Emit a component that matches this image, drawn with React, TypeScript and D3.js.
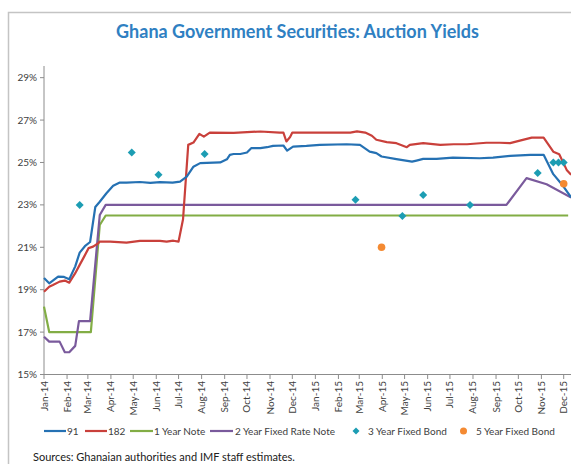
import React from "react";
import * as d3 from "d3";

// ---- data ----
const tickLabels = [
  "Jan-14","Feb-14","Mar-14","Apr-14","May-14","Jun-14","Jul-14","Aug-14","Sep-14","Oct-14","Nov-14","Dec-14",
  "Jan-15","Feb-15","Mar-15","Apr-15","May-15","Jun-15","Jul-15","Aug-15","Sep-15","Oct-15","Nov-15","Dec-15",
];
const yTicks = [15, 17, 19, 21, 23, 25, 27, 29];

const bill91: [string, number][] = [
  ["2014-01-01", 19.55], ["2014-01-08", 19.3], ["2014-01-20", 19.62], ["2014-01-28", 19.6],
  ["2014-02-04", 19.49], ["2014-02-12", 20.1], ["2014-02-18", 20.75], ["2014-02-25", 21.05],
  ["2014-03-04", 21.25], ["2014-03-11", 22.9], ["2014-03-17", 23.15], ["2014-03-26", 23.55],
  ["2014-04-04", 23.9], ["2014-04-13", 24.05], ["2014-04-22", 24.05], ["2014-05-10", 24.08],
  ["2014-05-24", 24.04], ["2014-06-06", 24.07], ["2014-06-23", 24.05], ["2014-07-03", 24.1],
  ["2014-07-12", 24.33], ["2014-07-21", 24.8], ["2014-07-30", 24.97], ["2014-08-26", 25.0],
  ["2014-09-04", 25.15], ["2014-09-08", 25.36], ["2014-09-13", 25.4], ["2014-09-22", 25.4],
  ["2014-10-01", 25.47], ["2014-10-07", 25.68], ["2014-10-19", 25.68], ["2014-10-28", 25.72],
  ["2014-11-05", 25.78], ["2014-11-19", 25.8], ["2014-11-24", 25.56], ["2014-12-02", 25.75],
  ["2014-12-20", 25.78], ["2015-01-07", 25.83], ["2015-02-12", 25.86], ["2015-03-02", 25.83],
  ["2015-03-15", 25.51], ["2015-03-24", 25.44], ["2015-03-31", 25.28], ["2015-04-20", 25.16],
  ["2015-05-11", 25.04], ["2015-05-17", 25.09], ["2015-05-26", 25.17], ["2015-06-13", 25.17],
  ["2015-07-05", 25.23], ["2015-08-10", 25.2], ["2015-08-28", 25.23], ["2015-09-20", 25.31],
  ["2015-10-17", 25.36], ["2015-11-04", 25.36], ["2015-11-17", 24.45], ["2015-11-30", 23.9],
  ["2015-12-11", 23.35],
];

const bill182: [string, number][] = [
  ["2014-01-01", 18.9], ["2014-01-08", 19.14], ["2014-01-13", 19.22], ["2014-01-22", 19.38],
  ["2014-01-29", 19.43], ["2014-02-04", 19.33], ["2014-02-12", 19.78], ["2014-02-18", 20.17],
  ["2014-02-24", 20.56], ["2014-03-02", 20.96], ["2014-03-08", 21.03], ["2014-03-15", 21.19],
  ["2014-03-17", 21.27], ["2014-03-31", 21.27], ["2014-04-22", 21.22], ["2014-05-10", 21.3],
  ["2014-06-06", 21.3], ["2014-06-15", 21.27], ["2014-06-24", 21.31], ["2014-07-01", 21.27],
  ["2014-07-07", 22.32], ["2014-07-14", 25.83], ["2014-07-21", 25.94], ["2014-07-29", 26.35],
  ["2014-08-04", 26.22], ["2014-08-12", 26.41], ["2014-09-13", 26.4], ["2014-10-19", 26.46],
  ["2014-11-14", 26.41], ["2014-11-19", 26.41], ["2014-11-23", 25.99], ["2014-11-28", 26.2],
  ["2014-12-01", 26.41], ["2015-02-17", 26.41], ["2015-02-26", 26.47], ["2015-03-09", 26.41],
  ["2015-03-18", 26.26], ["2015-03-24", 26.07], ["2015-04-07", 25.96], ["2015-04-20", 25.91],
  ["2015-05-04", 25.72], ["2015-05-08", 25.83], ["2015-05-26", 25.91], ["2015-06-18", 25.83],
  ["2015-07-06", 25.86], ["2015-07-24", 25.86], ["2015-08-19", 25.93], ["2015-09-06", 25.93],
  ["2015-09-20", 25.91], ["2015-10-03", 26.03], ["2015-10-19", 26.17], ["2015-11-04", 26.17],
  ["2015-11-17", 25.51], ["2015-11-25", 25.39], ["2015-12-05", 24.65], ["2015-12-11", 24.42],
];

const note1Y: [string, number][] = [
  ["2014-01-01", 18.2], ["2014-01-08", 17.0], ["2014-03-05", 17.0], ["2014-03-17", 22.05],
  ["2014-03-25", 22.5], ["2015-12-07", 22.5],
];

const note2Y: [string, number][] = [
  ["2014-01-01", 16.78], ["2014-01-08", 16.55], ["2014-01-22", 16.55], ["2014-01-29", 16.05],
  ["2014-02-04", 16.05], ["2014-02-12", 16.35], ["2014-02-17", 17.52], ["2014-03-04", 17.52],
  ["2014-03-17", 22.52], ["2014-03-25", 23.0], ["2015-09-15", 23.0], ["2015-10-12", 24.26],
  ["2015-11-08", 23.97], ["2015-12-11", 23.35],
];

const bond3Y: [string, number][] = [
  ["2014-02-18", 23.0], ["2014-04-29", 25.47], ["2014-06-04", 24.42], ["2014-08-05", 25.4],
  ["2015-02-24", 23.24], ["2015-04-28", 22.48], ["2015-05-26", 23.47], ["2015-07-28", 23.0],
  ["2015-10-27", 24.5], ["2015-11-17", 25.0], ["2015-11-24", 25.0], ["2015-12-01", 25.0],
];

const bond5Y: [string, number][] = [
  ["2015-03-31", 21.0], ["2015-12-01", 24.0],
];

const title = "Ghana Government Securities: Auction Yields";
const source = "Sources: Ghanaian authorities and IMF staff estimates.";

const C = {
  b91: "#2571b3",
  b182: "#c9403b",
  n1: "#82ad45",
  n2: "#7a5a9c",
  d3y: "#1c9db3",
  d5y: "#f48a32",
};

const parse = d3.utcParse("%Y-%m-%d");

export default function App() {
  const W = 571, H = 464;
  const x = d3.scaleUtc()
    .domain([parse("2014-01-01")!, parse("2015-12-01")!])
    .range([44, 563.7]);
  const y = d3.scaleLinear().domain([15, 29.55]).range([374.5, 66]);
  const line = d3.line<[string, number]>()
    .x((d) => x(parse(d[0])!))
    .y((d) => y(d[1]));
  const monthTicks = d3.utcMonth.range(parse("2014-01-01")!, parse("2015-12-02")!);
  const font = "Lato, 'Open Sans', sans-serif";
  const textCol = "#404040";
  const axisCol = "#8c8c8c";

  const diamond = (cx: number, cy: number, r: number) =>
    `M${cx},${cy - r}L${cx + r},${cy}L${cx},${cy + r}L${cx - r},${cy}Z`;

  const legendItems = [
    { type: "line", color: C.b91, x0: 44, x1: 66, tx: 67, label: "91" },
    { type: "line", color: C.b182, x0: 85, x1: 107, tx: 108, label: "182" },
    { type: "line", color: C.n1, x0: 130, x1: 153, tx: 154, label: "1 Year Note" },
    { type: "line", color: C.n2, x0: 210, x1: 233, tx: 235, label: "2 Year Fixed Rate Note" },
    { type: "diamond", color: C.d3y, x0: 356, x1: 356, tx: 368, label: "3 Year Fixed Bond" },
    { type: "circle", color: C.d5y, x0: 463.5, x1: 463.5, tx: 476, label: "5 Year Fixed Bond" },
  ];
  const ly = 431;

  return (
    <svg width={W} height={H} style={{ position: "absolute", left: 0, top: 0, background: "#fff" }}>
      <rect x={0} y={0} width={W} height={H} fill="#fff" />
      {/* frame */}
      <path d={`M${W + 2},12.5H8.5V${H + 2}`} fill="none" stroke="#c4c4c4" strokeWidth={1.5} />
      <text x={297.5} y={38} textAnchor="middle" fontFamily={font} fontWeight={700} fontSize={18} fill="#2f80c2">
        {title}
      </text>

      {/* y axis */}
      <line x1={44} x2={44} y1={66} y2={375} stroke={axisCol} strokeWidth={1} />
      {yTicks.map((t) => (
        <g key={t}>
          <line x1={40} x2={44} y1={y(t)} y2={y(t)} stroke={axisCol} />
          <text x={37} y={y(t)} dy="0.35em" textAnchor="end" fontFamily={font} fontSize={10} fill={textCol}>
            {t}%
          </text>
        </g>
      ))}

      {/* x axis */}
      <line x1={44} x2={W} y1={374.5} y2={374.5} stroke={axisCol} strokeWidth={1} />
      {monthTicks.map((m, i) => (
        <g key={i}>
          <line x1={x(m)} x2={x(m)} y1={374.5} y2={379} stroke={axisCol} />
          <text
            transform={`translate(${x(m)},381) rotate(-90)`}
            dy="0.35em"
            textAnchor="end"
            fontFamily={font}
            fontSize={10}
            fill={textCol}
          >
            {tickLabels[i]}
          </text>
        </g>
      ))}

      {/* series */}
      <path d={line(note1Y)!} fill="none" stroke={C.n1} strokeWidth={2.2} strokeLinejoin="round" />
      <path d={line(note2Y)!} fill="none" stroke={C.n2} strokeWidth={2.2} strokeLinejoin="round" />
      <path d={line(bill182)!} fill="none" stroke={C.b182} strokeWidth={2.2} strokeLinejoin="round" />
      <path d={line(bill91)!} fill="none" stroke={C.b91} strokeWidth={2.2} strokeLinejoin="round" />
      {bond3Y.map((d, i) => (
        <path key={i} d={diamond(x(parse(d[0])!), y(d[1]), 4)} fill={C.d3y} />
      ))}
      {bond5Y.map((d, i) => (
        <circle key={i} cx={x(parse(d[0])!)} cy={y(d[1])} r={3.8} fill={C.d5y} />
      ))}

      {/* legend */}
      {legendItems.map((it, i) => (
        <g key={i}>
          {it.type === "line" && (
            <line x1={it.x0} x2={it.x1} y1={ly} y2={ly} stroke={it.color} strokeWidth={2.2} />
          )}
          {it.type === "diamond" && <path d={diamond(it.x0, ly, 3.5)} fill={it.color} />}
          {it.type === "circle" && <circle cx={it.x0} cy={ly} r={3.5} fill={it.color} />}
          <text x={it.tx} y={ly} dy="0.35em" fontFamily={font} fontSize={10} fill={textCol}>
            {it.label}
          </text>
        </g>
      ))}

      <text x={33} y={457} dy="0.35em" fontFamily={font} fontSize={11} fill="#202020">
        {source}
      </text>
    </svg>
  );
}
